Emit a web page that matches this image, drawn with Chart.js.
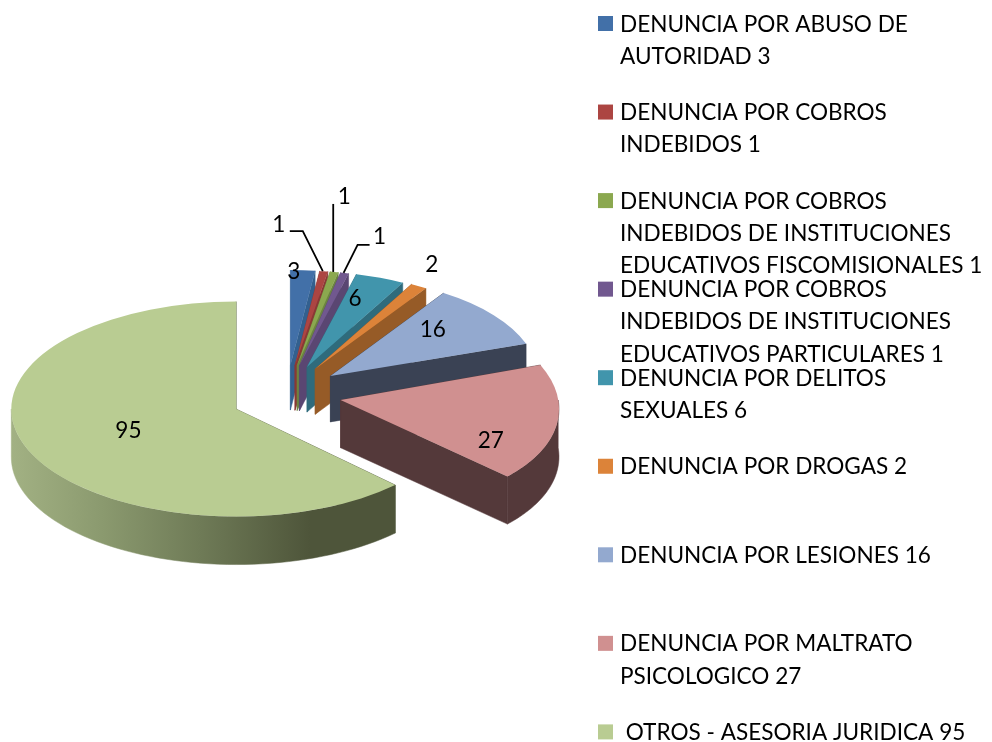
<!DOCTYPE html>
<html>
<head>
<meta charset="utf-8">
<style>html,body{margin:0;padding:0;background:#fff}canvas{display:block}</style>
<script src="https://cdn.jsdelivr.net/npm/chart.js@4"></script>
</head>
<body>
<canvas id="c" width="992" height="742"></canvas>
<script>
const legendLines = [
  ["DENUNCIA POR ABUSO DE", "AUTORIDAD 3"],
  ["DENUNCIA POR COBROS", "INDEBIDOS 1"],
  ["DENUNCIA POR COBROS", "INDEBIDOS DE INSTITUCIONES", "EDUCATIVOS FISCOMISIONALES 1"],
  ["DENUNCIA POR COBROS", "INDEBIDOS DE INSTITUCIONES", "EDUCATIVOS PARTICULARES 1"],
  ["DENUNCIA POR DELITOS", "SEXUALES 6"],
  ["DENUNCIA POR DROGAS 2"],
  ["DENUNCIA POR LESIONES 16"],
  ["DENUNCIA POR MALTRATO", "PSICOLOGICO 27"],
  [" OTROS - ASESORIA JURIDICA 95"]
];
const categories = legendLines.map(l => l.join(" "));
const values = [3, 1, 1, 1, 6, 2, 16, 27, 95];
const topColors  = ["#4270A8","#AC4542","#8BA84F","#71588F","#4195AC","#DC8339","#93A9CF","#D09090","#B9CC92"];
const wallColors = ["#33608F","#8A3835","#6C8540","#5A4672","#2F6B7C","#965B27","#3A4254","#54393A",null];
// label placement relative to each slice's outer mid-point
const labelNudge = [[-9,1],[-45,-47],[10,-76],[35,-37],[-25,20],[13,-22],[-61,14],[-66,16],[100,-20]];
// leader polylines, relative to the label
const leaders = {1:[[11,7],[24,7]], 2:[[-11,8]], 3:[[-10,9],[-22,9]]};
// pseudo-perspective corrections per slice
const sliceShear = [0,0,0,0,0,0,0,0.17,0];
const sliceLift  = [0,0,0,0,0,0,0,0,4.5];
const sliceYFit  = [1,1,1,1,1,1,1,1,0.98];
const sliceXFit  = [1,1,1,1,1,1,1,0.98,1];

const view = {cx:287, cy:393.6, apexX:55, apexY:28.6, r0:218, r1:-18, kr0:105.6, kr1:-10.6, d0:47.2, d1:-2.2};
const FONT = '24px Lato, Carlito, sans-serif';
const TEXT_SQUEEZE = 0.94;

function sliceFrame(arc, i){
  const p = arc.getProps(['x','y','startAngle','endAngle','outerRadius'], true);
  const mid = (p.startAngle + p.endAngle) / 2;
  const th = mid + Math.PI/2, s = Math.sin(th), c = Math.cos(th);
  const ax = view.cx + view.apexX*s, ay = view.cy - view.apexY*c + sliceLift[i];
  const sx = sliceXFit[i]*(view.r0 + view.r1*c)/p.outerRadius, sy = sliceYFit[i]*(view.kr0 + view.kr1*c)/p.outerRadius;
  const shear = sliceShear[i];
  return {p, mid, ax, ay, sx, sy, shear, depth:view.d0 + view.d1*c,
    pt(a){
      const dy = Math.sin(a)*p.outerRadius*sy;
      return [ax + Math.cos(a)*p.outerRadius*sx + shear*dy, ay + dy];
    }};
}
function fillPoly(ctx, pts, fill){
  ctx.beginPath();
  pts.forEach((q,i)=> i ? ctx.lineTo(q[0],q[1]) : ctx.moveTo(q[0],q[1]));
  ctx.closePath(); ctx.fillStyle = fill; ctx.strokeStyle = fill; ctx.lineWidth = 0.5; ctx.fill(); ctx.stroke();
}
function squeezed(ctx, t, x, y){
  ctx.save(); ctx.translate(x,y); ctx.scale(TEXT_SQUEEZE,1); ctx.fillText(t,0,0); ctx.restore();
}
const pie3d = {
  id:'pie3d',
  beforeDatasetDraw(chart, args){
    const ctx = chart.ctx, arcs = args.meta.data;
    const gw = ctx.createLinearGradient(12,0,310,0);
    gw.addColorStop(0,'#A2B183'); gw.addColorStop(.3,'#8B9A6F'); gw.addColorStop(.63,'#6F7B57'); gw.addColorStop(1,'#4E553A');
    arcs.forEach((arc,i)=>{
      const f = sliceFrame(arc,i), fill = wallColors[i] || gw, D = f.depth;
      const a0=f.p.startAngle, a1=f.p.endAngle;
      [a0,a1].forEach(a=>{
        const q=f.pt(a);
        fillPoly(ctx,[[f.ax,f.ay],q,[q[0],q[1]+D],[f.ax,f.ay+D]],fill);
      });
      const lo=Math.max(a0,0), hi=Math.min(a1,Math.PI);
      if(hi>lo){
        const up=[],dn=[];
        for(let n=0;n<=60;n++){ const q=f.pt(lo+(hi-lo)*n/60); up.push(q); dn.unshift([q[0],q[1]+D]); }
        fillPoly(ctx,up.concat(dn),fill);
      }
    });
    arcs.forEach((arc,i)=>{
      const f = sliceFrame(arc,i);
      ctx.save();
      ctx.translate(f.ax,f.ay); ctx.transform(1,0,f.shear,1,0,0); ctx.scale(f.sx,f.sy); ctx.translate(-f.p.x,-f.p.y);
      arc.draw(ctx);
      ctx.restore();
    });
    return false;
  },
  afterDraw(chart){
    const ctx = chart.ctx, arcs = chart.getDatasetMeta(0).data;
    ctx.save();
    ctx.font = FONT; ctx.fillStyle='#000'; ctx.strokeStyle='#000'; ctx.lineWidth=1.8;
    ctx.textAlign='center'; ctx.textBaseline='middle';
    arcs.forEach((arc,i)=>{
      const f = sliceFrame(arc,i), o = f.pt(f.mid);
      const lx=o[0]+labelNudge[i][0], ly=o[1]+labelNudge[i][1];
      squeezed(ctx,String(values[i]),lx,ly);
      if(leaders[i]){
        ctx.beginPath();
        leaders[i].forEach((q,n)=> n? ctx.lineTo(lx+q[0],ly+q[1]) : ctx.moveTo(lx+q[0],ly+q[1]));
        ctx.lineTo(o[0]-1,o[1]); ctx.stroke();
      }
    });
    ctx.textAlign='left';
    legendLines.forEach((lines,i)=>{
      const y = 23.8 + i*88.55;
      ctx.fillStyle=topColors[i];
      ctx.fillRect(598,y-7.8,15,15);
      ctx.fillStyle='#000';
      lines.forEach((t,n)=>squeezed(ctx,t,620,y+n*32.3));
    });
    ctx.restore();
  }
};
new Chart(document.getElementById('c'),{
  type:'pie',
  data:{labels:categories,datasets:[{data:values,backgroundColor:topColors,borderWidth:0}]},
  options:{responsive:false,animation:false,events:[],radius:222,
    plugins:{legend:{display:false},tooltip:{enabled:false}}},
  plugins:[pie3d]
});
</script>
</body>
</html>
